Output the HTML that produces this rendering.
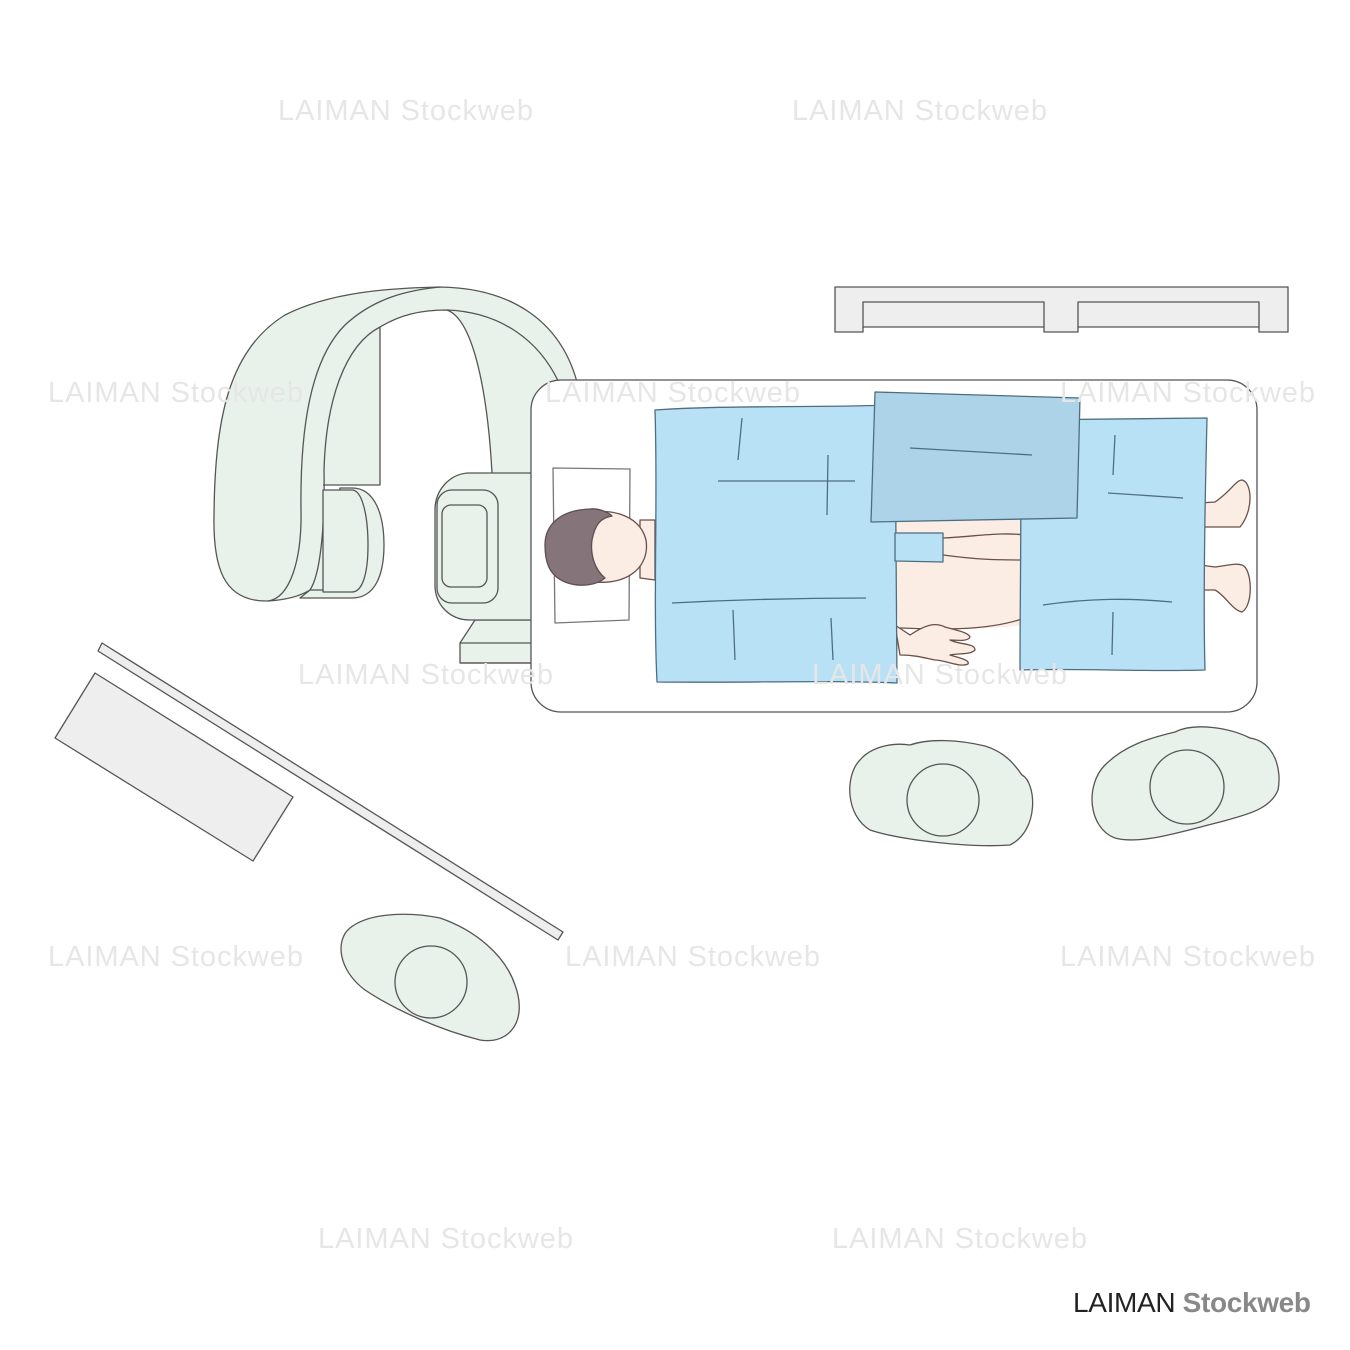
<!DOCTYPE html>
<html><head><style>
html,body{margin:0;padding:0;background:#fff;}
svg{display:block}
.wm{font-family:"Liberation Sans",sans-serif;font-size:29px;fill:#e6e6e6;}
</style></head><body>
<svg width="1350" height="1350" viewBox="0 0 1350 1350" xmlns="http://www.w3.org/2000/svg">
<g stroke="#555" stroke-width="1.3" stroke-linejoin="round">
<!-- top rail -->
<polygon points="835,287 1288,287 1288,332 1259,332 1259,327 1078,327 1078,332 1044,332 1044,327 863,327 863,332 835,332" fill="#eeeeee"/>
<polyline points="863,327 863,302 1044,302 1044,327" fill="none"/>
<polyline points="1078,327 1078,302 1259,302 1259,327" fill="none"/>

<!-- C-arm -->
<path d="M268,601 C222,602 213,565 214,515 C215,420 228,350 285,315 C330,292 390,288 440,287 C510,288 560,320 577,382 L577,620 L492,620 L492,473 C488,400 475,320 447,310 C420,310 400,315 380,327 L380,485 L323,485 L323,590 L300,598 Z" fill="#e9f2ea" stroke="none"/>
<path d="M268,601 C222,602 213,565 214,515 C215,420 228,350 285,315 C330,292 390,288 440,287 C510,288 560,320 577,382" fill="none"/>
<path d="M268,601 C290,598 302,560 301,510 C300,430 310,360 345,325 C375,297 410,290 440,287" fill="none"/>
<path d="M268,601 C285,600 300,596 310,590 C320,575 325,530 324,470 C326,400 345,345 380,327 C400,315 420,310 447,310 C500,312 540,340 560,385" fill="none"/>
<path d="M447,310 C475,320 488,400 492,473" fill="none"/>
<polyline points="380,327 380,485 323,485" fill="none"/>
<!-- cylinder -->
<path d="M340,488 L352,488 C375,488 384,515 384,545 C384,575 375,598 352,598 L300,598 L310,590 L323,590 Z" fill="#e9f2ea"/>
<path d="M323,490 L352,490 C362,490 368,515 368,545 C368,575 362,592 352,592 L323,592 Z" fill="#e9f2ea"/>
<!-- detector base -->
<path d="M460,663 L460,643 L475,620 L540,620 L540,663 Z" fill="#e9f2ea"/>
<path d="M460,663 L540,663 M460,643 L540,643" fill="none"/>
<path d="M470,473 L540,473 L540,620 L470,620 C450,620 435,605 435,585 L435,510 C435,490 450,473 470,473 Z" fill="#e9f2ea"/>
<rect x="437" y="490" width="61" height="113" rx="15" fill="#e9f2ea"/>
<rect x="442" y="505" width="45" height="82" rx="9" fill="#e9f2ea"/>

<!-- table -->
<rect x="531" y="380" width="726" height="332" rx="30" fill="#fff"/>
<!-- pillow -->
<polygon points="553,468 630,469 629,620 555,623" fill="#fff" stroke="#777"/>
<!-- legs skin -->
<path d="M880,520 L1025,517 L1025,625 C980,630 930,630 900,628 Z" fill="#fbede3" stroke="none"/>
<path d="M943,538 C980,536 1000,532 1025,535 M943,555 C980,560 1000,560 1025,560 M900,628 C950,630 990,630 1025,618" fill="none" stroke="#6b5048"/>
<!-- feet -->
<path d="M1200,503 L1215,502 C1230,492 1236,480 1242,480 C1252,482 1254,510 1240,527 L1200,527 Z" fill="#fbede3" stroke="#6b5048"/>
<path d="M1200,565 L1215,567 C1230,565 1236,563 1242,565 C1252,568 1254,605 1242,612 C1232,610 1225,595 1215,590 L1200,590 Z" fill="#fbede3" stroke="#6b5048"/>
<!-- hand -->
<path d="M895,625 L910,635 C925,625 935,622 945,627 C955,630 968,632 970,637 C968,642 955,640 950,640 C960,645 975,643 975,650 C970,655 960,653 950,655 C960,658 970,660 968,664 C960,668 945,660 935,660 C925,658 915,655 900,655 Z" fill="#fbede3" stroke="#6b5048"/>
<!-- neck/head -->
<path d="M640,520 L655,520 L655,580 L640,578 Z" fill="#fbede3" stroke="#6b5048"/>
<path d="M590,513 C610,508 640,515 646,540 C650,565 630,585 595,582 C575,580 572,512 590,513 Z" fill="#fbede3" stroke="#6b5048"/>
<path d="M590,509 C598,508 608,512 612,516 C600,518 595,525 592,540 C590,555 595,570 605,578 C597,585 580,588 565,582 C548,575 545,560 545,545 C545,525 560,510 590,509 Z" fill="#85747a" stroke="#5d4e55"/>
<!-- drapes -->
<path d="M655,410 C730,405 800,408 895,405 L897,683 C830,680 740,683 657,682 C653,600 658,500 655,410 Z" fill="#b9e1f6" stroke="#4e6e80"/>
<path d="M1020,420 L1207,418 C1205,500 1203,600 1205,670 C1140,672 1080,668 1020,670 C1020,580 1022,500 1020,420 Z" fill="#b9e1f6" stroke="#4e6e80"/>
<polygon points="895,533 943,533 943,562 895,561" fill="#b9e1f6" stroke="#4e6e80"/>
<polygon points="875,392 1080,398 1077,518 871,522" fill="#acd3e8" stroke="#4e6e80"/>
<g fill="none" stroke="#4e6e80">
<path d="M742,418 L738,460 M718,481 L855,481 M828,455 L827,515 M672,603 C730,600 800,598 866,598 M733,610 L735,660 M831,618 L833,660 M910,448 L1032,455 M1115,435 L1113,475 M1108,493 L1183,498 M1043,605 C1090,598 1130,598 1172,602 M1113,612 L1112,655"/>
</g>

<!-- diagonal panels -->
<polygon points="95,673 293,797 253,861 55,738" fill="#eeeeee"/>
<polygon points="102,643 563,932 558,940 98,651" fill="#eeeeee"/>

<!-- persons -->
<path d="M860,760 C870,748 890,742 910,745 C930,738 960,740 985,746 C1005,752 1015,765 1022,775 C1036,782 1040,830 1010,845 C970,848 900,840 870,830 C845,815 845,775 860,760 Z" fill="#e9f2ea"/>
<circle cx="943" cy="800" r="36" fill="#e9f2ea"/>
<path d="M1105,765 C1125,745 1150,738 1175,732 C1195,722 1230,728 1250,738 C1275,742 1282,770 1278,790 C1270,810 1245,815 1220,822 C1180,832 1140,845 1115,838 C1088,828 1085,785 1105,765 Z" fill="#e9f2ea"/>
<circle cx="1187" cy="787" r="37" fill="#e9f2ea"/>
<path d="M350,928 C370,912 410,912 440,918 C475,930 505,955 515,985 C528,1020 510,1045 480,1040 C440,1030 395,1010 365,990 C338,970 335,940 350,928 Z" fill="#e9f2ea"/>
<circle cx="431" cy="982" r="36" fill="#e9f2ea"/>
</g>

<!-- watermarks -->
<g class="wm">
<text x="278" y="120" textLength="255">LAIMAN Stockweb</text>
<text x="792" y="120" textLength="255">LAIMAN Stockweb</text>
<text x="48" y="402" textLength="255">LAIMAN Stockweb</text>
<text x="545" y="402" textLength="255">LAIMAN Stockweb</text>
<text x="1060" y="402" textLength="255">LAIMAN Stockweb</text>
<text x="298" y="684" textLength="255">LAIMAN Stockweb</text>
<text x="812" y="684" textLength="255">LAIMAN Stockweb</text>
<text x="48" y="966" textLength="255">LAIMAN Stockweb</text>
<text x="565" y="966" textLength="255">LAIMAN Stockweb</text>
<text x="1060" y="966" textLength="255">LAIMAN Stockweb</text>
<text x="318" y="1248" textLength="255">LAIMAN Stockweb</text>
<text x="832" y="1248" textLength="255">LAIMAN Stockweb</text>
</g>
<text x="1073" y="1312" font-family="Liberation Sans,sans-serif" font-size="28" fill="#222" textLength="238">LAIMAN<tspan fill="#888" font-weight="bold"> Stockweb</tspan></text>
</svg>
</body></html>
